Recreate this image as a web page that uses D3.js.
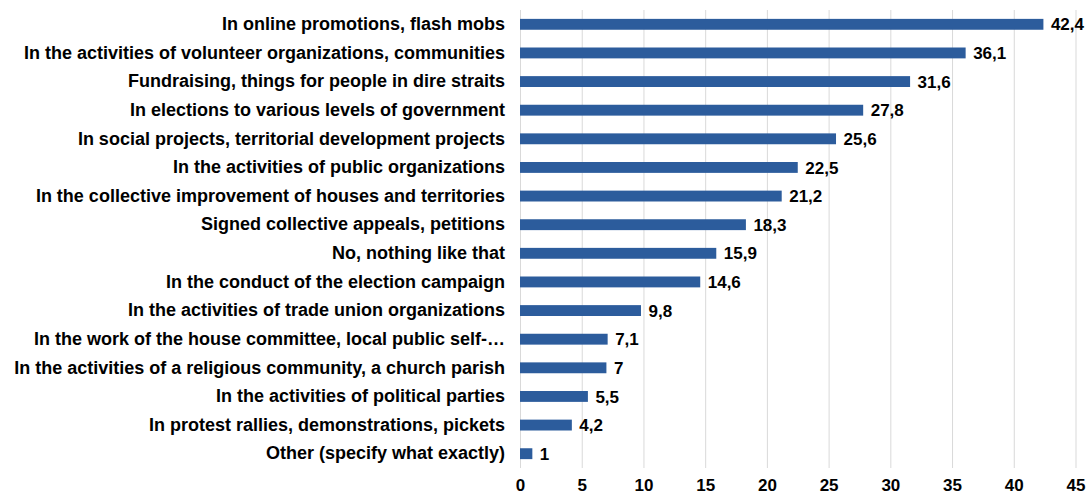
<!DOCTYPE html>
<html><head><meta charset="utf-8">
<script src="https://cdn.jsdelivr.net/npm/d3@7"></script>
<style>body{margin:0;background:#fff}svg{display:block}</style>
</head><body>
<script>
const categories = [
  "In online promotions, flash mobs",
  "In the activities of volunteer organizations, communities",
  "Fundraising, things for people in dire straits",
  "In elections to various levels of government",
  "In social projects, territorial development projects",
  "In the activities of public organizations",
  "In the collective improvement of houses and territories",
  "Signed collective appeals, petitions",
  "No, nothing like that ",
  "In the conduct of the election campaign",
  "In the activities of trade union organizations",
  "In the work of the house committee, local public self-…",
  "In the activities of a religious community, a church parish",
  "In the activities of political parties",
  "In protest rallies, demonstrations, pickets",
  "Other (specify what exactly)"
];
const values = [42.4, 36.1, 31.6, 27.8, 25.6, 22.5, 21.2, 18.3, 15.9, 14.6, 9.8, 7.1, 7, 5.5, 4.2, 1];
const tickValues = [0, 5, 10, 15, 20, 25, 30, 35, 40, 45];

const W = 1089, H = 496;
const svg = d3.select("body").append("svg").attr("width", W).attr("height", H);
const x = d3.scaleLinear().domain([0, 45]).range([520, 1075.5]);
const y = d3.scaleBand().domain(categories).range([10, 468]).paddingInner(0.62).paddingOuter(0.31);
const font = "'Liberation Sans', Arial, sans-serif";

// grid
svg.append("g").selectAll("line").data(tickValues).join("line")
  .attr("x1", d => x(d) + 0.5).attr("x2", d => x(d) + 0.5)
  .attr("y1", 10).attr("y2", 468)
  .attr("stroke", "#d9d9d9").attr("stroke-width", 1);

// bars
svg.append("g").selectAll("rect").data(values).join("rect")
  .attr("x", x(0))
  .attr("y", (d, i) => y(categories[i]))
  .attr("width", d => x(d) - x(0))
  .attr("height", y.bandwidth())
  .attr("fill", "#2C5C9C");

// value labels
svg.append("g").selectAll("text").data(values).join("text")
  .attr("x", d => x(d) + 7.5)
  .attr("y", (d, i) => y(categories[i]) + y.bandwidth() / 2)
  .attr("dy", "0.36em")
  .attr("font-family", font).attr("font-weight", "bold").attr("font-size", 17)
  .attr("fill", "#000")
  .text(d => String(d).replace(".", ","));

// category labels
const yAxis = d3.axisLeft(y).tickSize(0).tickPadding(0);
const gy = svg.append("g").attr("transform", `translate(505,0)`).call(yAxis);
gy.select(".domain").remove();
gy.selectAll("text").attr("font-family", font).attr("font-weight", "bold").attr("font-size", 18).attr("fill", "#000");

// x axis
const xAxis = d3.axisBottom(x).tickValues(tickValues).tickSize(0).tickPadding(0).tickFormat(d3.format("d"));
const gx = svg.append("g").attr("transform", `translate(0,479)`).call(xAxis);
gx.select(".domain").remove();
gx.selectAll("text").attr("font-family", font).attr("font-weight", "bold").attr("font-size", 17).attr("fill", "#000");
</script>
</body></html>
